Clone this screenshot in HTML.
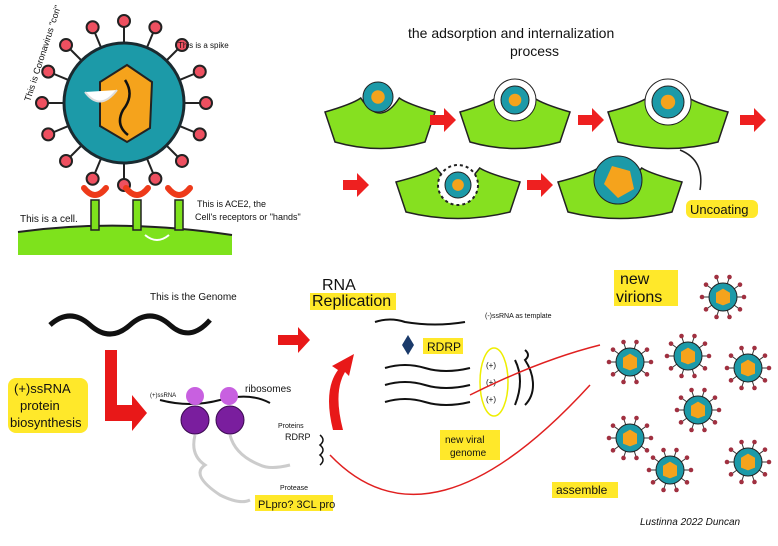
<!DOCTYPE html><html><head><meta charset="utf-8"><style>
body{margin:0;background:#fff;width:778px;height:546px;overflow:hidden}
svg{display:block}
text{font-family:"Liberation Sans",sans-serif;fill:#111}
.h{fill:#ffe82a}
</style></head><body>
<svg id="s" width="778" height="546" viewBox="0 0 778 546" xmlns="http://www.w3.org/2000/svg">
<g id="spikes" stroke="#222" stroke-width="2"></g>
<circle cx="124" cy="103" r="60" fill="#1c9aa8" stroke="#1a2a30" stroke-width="3"/>
<polygon points="127,65 152,82 150,128 127,142 100,126 100,82" fill="#f5a31c" stroke="#222" stroke-width="2"/>
<path d="M125,80 q10,15 -2,30 q-8,15 5,25" stroke="#111" stroke-width="2.5" fill="none"/>
<path d="M85,92 q15,20 32,-2" fill="#fff" stroke="#ddd" stroke-width="2"/>
<path d="M18,232 Q120,218 232,235 L232,255 L18,255 Z" fill="#7ee21c"/>
<path d="M18,232 Q120,218 232,235" stroke="#222" stroke-width="2" fill="none"/>
<g fill="#7ee21c" stroke="#222" stroke-width="1.5">
<rect x="91" y="200" width="8" height="30"/><rect x="133" y="200" width="8" height="30"/><rect x="175" y="200" width="8" height="30"/></g>
<g fill="none" stroke="#ee3a1a" stroke-width="6" stroke-linecap="round"><path d="M84,188 q11,14 22,0"/><path d="M126,188 q11,14 22,0"/><path d="M168,188 q11,14 22,0"/></g>
<path d="M145,235 q12,10 24,0" stroke="#fff" stroke-width="2" fill="none"/>
<text x="20" y="222" font-size="10">This is a cell.</text>
<text x="197" y="207" font-size="9">This is ACE2, the</text>
<text x="195" y="220" font-size="9">Cell's receptors or "hands"</text>
<text x="178" y="48" font-size="8">This is a spike</text>
<text transform="translate(30,102) rotate(-72)" font-size="9">This is Coronavirus "cori"</text>
<text x="408" y="38" font-size="14">the adsorption and internalization</text>
<text x="510" y="56" font-size="14">process</text>
<g id="proc"></g>
<g fill="#ee2020">
<path d="M430,115 h14 v-7 l12,12 -12,12 v-7 h-14z"/>
<path d="M578,115 h14 v-7 l12,12 -12,12 v-7 h-14z"/>
<path d="M740,115 h14 v-7 l12,12 -12,12 v-7 h-14z"/>
<path d="M343,180 h14 v-7 l12,12 -12,12 v-7 h-14z"/>
<path d="M527,180 h14 v-7 l12,12 -12,12 v-7 h-14z"/>
</g>
<rect x="686" y="200" width="72" height="18" rx="6" class="h"/>
<text x="690" y="214" font-size="13">Uncoating</text>
<path d="M680,150 q25,10 20,40" stroke="#222" stroke-width="1.5" fill="none"/>
<path d="M50,325 q20,-18 40,0 q20,18 40,0 q20,-18 40,0 q20,18 40,-5" stroke="#111" stroke-width="5" fill="none"/>
<text x="150" y="300" font-size="10">This is the Genome</text>
<path d="M105,350 h12 v55 h15 v-10 l15,18 -15,18 v-10 h-27z" fill="#e81818"/>
<rect x="8" y="378" width="80" height="55" rx="8" class="h"/>
<text x="14" y="393" font-size="13">(+)ssRNA</text>
<text x="20" y="410" font-size="13">protein</text>
<text x="10" y="427" font-size="13">biosynthesis</text>
<path d="M160,400 q30,8 60,0 q30,-8 50,3" stroke="#111" stroke-width="2" fill="none"/>
<g fill="#7a1e9e" stroke="#3a0a50"><circle cx="195" cy="420" r="14"/><circle cx="230" cy="420" r="14"/></g>
<g fill="#c860e0"><circle cx="195" cy="396" r="9"/><circle cx="229" cy="396" r="9"/></g>
<path d="M195,435 q-5,20 10,30 q-15,10 15,30 q20,10 30,5 M230,435 q5,20 30,30 q10,5 30,0" stroke="#ccc" stroke-width="3" fill="none"/>
<text x="245" y="392" font-size="10">ribosomes</text>
<text x="150" y="397" font-size="6">(+)ssRNA</text>
<text x="278" y="428" font-size="7">Proteins</text>
<text x="285" y="440" font-size="9">RDRP</text>
<text x="280" y="490" font-size="7">Protease</text>
<rect x="255" y="495" width="78" height="16" class="h"/>
<text x="258" y="508" font-size="11">PLpro? 3CL pro</text>
<path d="M320,435 q6,5 0,10 q6,5 0,10 q6,5 0,10" stroke="#111" stroke-width="1.5" fill="none"/>
<path d="M278,335 h20 v-8 l12,13 -12,13 v-8 h-20z" fill="#e81818"/>
<path d="M333,430 q-10,-40 5,-60 l-6,-4 l22,-12 -5,22 -4,-4 q-12,20 -2,58z" fill="#e81818"/>
<rect x="310" y="293" width="86" height="17" class="h"/>
<text x="322" y="290" font-size="16">RNA</text>
<text x="312" y="306" font-size="16">Replication</text>
<path d="M375,322 q15,-5 30,0 q30,5 60,0" stroke="#111" stroke-width="2" fill="none"/>
<text x="485" y="318" font-size="7">(-)ssRNA as template</text>
<polygon points="408,335 414,345 408,355 402,345" fill="#1a3a6a"/>
<rect x="423" y="338" width="40" height="16" class="h"/>
<text x="427" y="351" font-size="12">RDRP</text>
<g stroke="#111" stroke-width="2" fill="none">
<path d="M385,368 q20,-6 40,0 q20,6 45,0"/><path d="M385,385 q20,-6 40,0 q20,6 45,0"/><path d="M385,402 q20,-6 40,0 q20,6 45,0"/>
<path d="M515,360 q10,20 0,45"/><path d="M525,350 q6,5 0,10 q8,12 8,25 q0,12 -8,20"/></g>
<ellipse cx="494" cy="382" rx="14" ry="34" fill="none" stroke="#ee0" stroke-width="1.5"/>
<text x="486" y="368" font-size="8">(+)</text><text x="486" y="385" font-size="8">(+)</text><text x="486" y="402" font-size="8">(+)</text>
<rect x="440" y="430" width="60" height="30" class="h"/>
<text x="445" y="443" font-size="10">new viral</text>
<text x="450" y="456" font-size="10">genome</text>
<path d="M330,455 Q430,560 590,385" stroke="#e02020" stroke-width="1.5" fill="none"/>
<path d="M470,395 Q540,360 600,345" stroke="#e02020" stroke-width="1.5" fill="none"/>
<rect x="552" y="482" width="66" height="16" class="h"/>
<text x="556" y="494" font-size="12">assemble</text>
<rect x="614" y="270" width="64" height="36" class="h"/>
<text x="620" y="284" font-size="16">new</text>
<text x="616" y="302" font-size="16">virions</text>
<g id="vir"></g>
<text x="640" y="525" font-size="10" font-style="italic">Lustinna 2022 Duncan</text>
</svg>
<script>
var NS="http://www.w3.org/2000/svg";
function el(p,t,a){var e=document.createElementNS(NS,t);for(var k in a)e.setAttribute(k,a[k]);p.appendChild(e);return e}
var sp=document.getElementById('spikes');
for(var i=0;i<16;i++){var a=i/16*2*Math.PI;var x=124+Math.cos(a)*82,y=103+Math.sin(a)*82;
el(sp,'line',{x1:124+Math.cos(a)*58,y1:103+Math.sin(a)*58,x2:x,y2:y});el(sp,'circle',{cx:x,cy:y,r:6,fill:'#ee5060'});}
function virus(g,cx,cy,r){for(var i=0;i<10;i++){var a=i/10*2*Math.PI;var x=cx+Math.cos(a)*r*1.5,y=cy+Math.sin(a)*r*1.5;
el(g,'line',{x1:cx,y1:cy,x2:x,y2:y,stroke:'#333','stroke-width':1});el(g,'circle',{cx:x,cy:y,r:2.3,fill:'#a03040'});}
el(g,'circle',{cx:cx,cy:cy,r:r,fill:'#1c9aa8',stroke:'#222'});
el(g,'polygon',{points:[cx,cy-r*.6,cx+r*.5,cy-r*.3,cx+r*.5,cy+r*.4,cx,cy+r*.6,cx-r*.5,cy+r*.4,cx-r*.5,cy-r*.3].join(','),fill:'#f5a31c'});}
var v=document.getElementById('vir');
[[723,297],[630,362],[688,356],[748,368],[698,410],[630,438],[670,470],[748,462]].forEach(function(p){virus(v,p[0],p[1],14)});
var pr=document.getElementById('proc');
function mound(cx,cy,w){el(pr,'path',{d:'M'+(cx-w)+','+(cy-8)+' Q'+(cx-w/2)+','+(cy-16)+' '+(cx-w*0.35)+','+(cy-22)+' Q'+cx+','+(cy+8)+' '+(cx+w*0.35)+','+(cy-22)+' Q'+(cx+w/2)+','+(cy-16)+' '+(cx+w)+','+(cy-8)+' L'+(cx+w-10)+','+(cy+22)+' Q'+cx+','+(cy+35)+' '+(cx-w+10)+','+(cy+22)+'Z',fill:'#86e020',stroke:'#222','stroke-width':1.5});}
function inner(cx,cy,r,white,dash){if(white)el(pr,'circle',{cx:cx,cy:cy,r:r+7,fill:'#fff',stroke:'#222','stroke-width':dash?2:1,'stroke-dasharray':dash?'3 3':''});
el(pr,'circle',{cx:cx,cy:cy,r:r,fill:'#1c9aa8',stroke:'#222'});el(pr,'circle',{cx:cx,cy:cy,r:r*.45,fill:'#f5a31c'});}
mound(380,120,55);inner(378,97,15,false);
mound(515,120,55);inner(515,100,14,true);
mound(668,120,60);inner(668,102,16,true);
mound(458,190,62);inner(458,185,13,true,true);
mound(620,190,62);el(pr,'circle',{cx:618,cy:180,r:24,fill:'#1c9aa8',stroke:'#222'});el(pr,'polygon',{points:'612,166 630,171 634,189 618,198 604,184',fill:'#f5a31c'});
</script>
</body></html>
